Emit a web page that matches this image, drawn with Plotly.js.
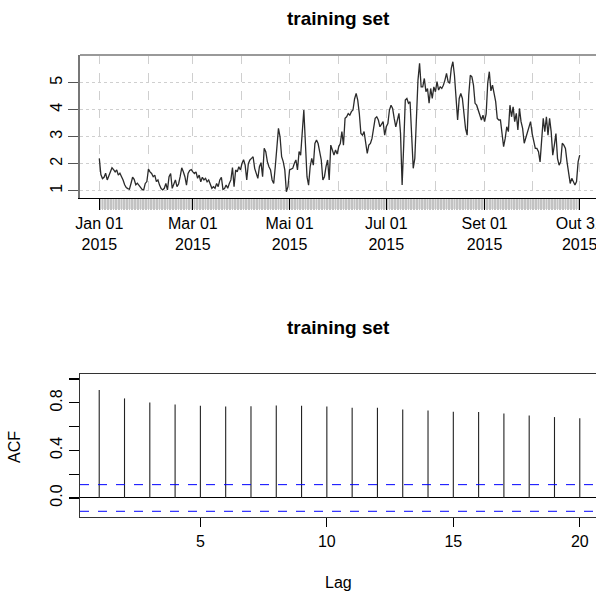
<!DOCTYPE html>
<html>
<head>
<meta charset="utf-8">
<script src="https://cdn.plot.ly/plotly-3.0.1.min.js"></script>
<style>
html,body{margin:0;padding:0;overflow:hidden;background:#fff;}
#chart{width:620px;height:597px;}
</style>
</head>
<body>
<div id="chart"></div>
<script>
// ---------- data ----------
const startDate = '2015-01-01';
const endDate = '2015-10-31';
const seriesValues = [
2.20,1.60,1.45,1.50,1.65,1.40,1.55,1.70,1.85,1.78,
1.70,1.77,1.58,1.65,1.55,1.40,1.22,1.12,1.08,1.06,
1.27,1.50,1.42,1.22,1.28,1.20,1.14,1.05,1.03,1.27,
1.34,1.80,1.70,1.64,1.52,1.58,1.34,1.40,1.21,1.08,
1.03,1.09,1.27,1.03,1.52,1.64,1.09,1.27,1.40,1.15,
1.25,1.52,1.85,1.70,1.52,1.21,1.64,1.75,1.78,1.70,
1.64,
1.70,1.46,1.58,1.33,1.50,1.40,1.46,1.33,1.40,1.21,
1.09,1.15,1.09,1.27,1.15,1.40,1.50,1.05,1.08,1.21,
1.09,1.27,1.40,1.86,1.15,1.77,1.70,1.89,1.77,2.01,
2.15,1.95,1.40,2.00,2.14,2.20,2.26,1.83,1.60,1.46,
1.89,2.04,1.52,2.57,2.45,2.08,1.89,1.77,1.40,1.27,
1.90,2.75,3.31,3.00,2.26,2.08,1.77,0.96,1.15,1.77,
1.80,1.83,
2.01,2.14,1.77,2.45,2.32,3.12,3.99,2.75,1.52,1.21,
1.89,2.20,1.95,2.75,2.88,2.75,2.40,2.14,1.40,1.52,
1.89,2.14,1.40,2.69,2.51,2.32,2.51,2.36,2.63,2.75,
3.19,2.69,3.68,3.74,3.86,3.80,3.93,3.99,4.40,4.61,
4.36,3.86,3.12,3.06,3.19,2.75,2.38,2.69,2.75,2.94,
3.37,3.68,3.74,3.62,3.37,3.49,3.56,3.06,3.37,3.49,
3.99,
4.17,4.05,3.68,3.37,3.62,3.87,3.12,1.21,2.69,4.36,
4.42,4.24,4.30,2.94,1.83,2.20,4.05,5.10,5.72,4.85,
4.85,5.16,4.67,4.79,4.24,4.79,4.42,4.85,4.67,5.04,
4.73,4.85,4.79,4.91,5.10,5.35,5.04,4.98,5.53,5.78,
5.28,4.48,3.62,4.42,4.60,4.42,3.93,3.30,3.06,4.54,
5.28,5.22,4.91,4.24,4.17,3.99,3.80,3.62,3.80,3.56,
3.85,5.00,
5.41,4.70,4.91,4.54,4.30,3.68,3.62,3.62,3.19,2.63,
2.94,3.37,3.19,4.17,3.74,4.11,3.56,3.87,3.25,4.05,
3.56,3.31,2.76,2.94,3.19,3.37,3.56,3.12,2.82,2.57,
2.57,2.45,2.07,3.06,3.68,3.19,3.74,3.06,3.68,3.19,
2.32,2.69,3.12,2.20,1.95,2.07,2.76,2.69,2.57,2.07,
1.58,1.27,1.46,1.35,1.21,1.34,2.07,2.32
];
const dateTickVals = ['2015-01-01','2015-02-01','2015-03-01','2015-04-01','2015-05-01','2015-06-01',
                      '2015-07-01','2015-08-01','2015-09-01','2015-10-01','2015-10-31'];
const dateTickText = ['Jan 01<br>2015','','Mar 01<br>2015','','Mai 01<br>2015','',
                      'Jul 01<br>2015','','Set 01<br>2015','','Out 31<br>2015'];
const lags = [1,2,3,4,5,6,7,8,9,10,11,12,13,14,15,16,17,18,19,20];
const acfValues = [0.907,0.837,0.803,0.786,0.775,0.770,0.772,0.778,0.775,0.770,
                   0.758,0.758,0.744,0.736,0.724,0.722,0.711,0.694,0.680,0.671];
const confLimit = 0.112;
const titleText = 'training set';

// ---------- build dates ----------
function addDays(s, n){
  const d = new Date(s + 'T00:00:00Z');
  d.setUTCDate(d.getUTCDate() + n);
  return d.toISOString().slice(0,10);
}
const dates = seriesValues.map((_, i) => addDays(startDate, i));
const FONT = 'Liberation Sans, Arial, sans-serif';

const traces = [
  {
    type: 'scatter', mode: 'lines', x: dates, y: seriesValues,
    xaxis: 'x', yaxis: 'y',
    line: {color: '#2b2b2b', width: 1.3},
    hoverinfo: 'x+y', showlegend: false
  },
  {
    type: 'scatter', mode: 'markers', x: lags, y: acfValues,
    xaxis: 'x2', yaxis: 'y2',
    marker: {size: 1, color: 'rgba(0,0,0,0)'},
    error_y: {type: 'data', symmetric: false, array: acfValues.map(() => 0),
              arrayminus: acfValues, width: 0, thickness: 1.1, color: '#222'},
    showlegend: false
  }
];

const layout = {
  width: 620, height: 597,
  margin: {l: 80, r: 21, t: 0, b: 0},
  paper_bgcolor: '#fff', plot_bgcolor: '#fff',
  font: {family: FONT, size: 16, color: '#000'},
  showlegend: false,
  xaxis: {
    type: 'date', anchor: 'y', domain: [0, 1],
    range: ['2014-12-19 20:00:00', '2015-11-12 04:00:00'],
    tickmode: 'array', tickvals: dateTickVals, ticktext: dateTickText,
    ticks: 'outside', ticklen: 11, tickwidth: 1.2, tickcolor: '#000',
    showline: true, linecolor: '#000', linewidth: 1.2,
    showgrid: true, gridcolor: '#cfcfcf', griddash: 'dash', gridwidth: 1,
    zeroline: false, tickfont: {size: 16, family: FONT},
    minor: {tickmode: 'array', tickvals: dates, ticks: 'outside', ticklen: 11,
            tickwidth: 1, tickcolor: '#c2c2c2', showgrid: false}
  },
  yaxis: {
    anchor: 'x', domain: [0.6683, 0.9079], range: [0.73, 6.03],
    tickmode: 'array', tickvals: [1,2,3,4,5],
    ticks: 'outside', ticklen: 10, tickwidth: 1.2, tickcolor: '#555',
    tickangle: -90,
    showline: true, linecolor: '#777', linewidth: 2,
    showgrid: true, gridcolor: '#cfcfcf', griddash: 'dot', gridwidth: 1,
    zeroline: false, tickfont: {size: 16, family: FONT}
  },
  xaxis2: {
    anchor: 'y2', domain: [0, 1], range: [0.24, 20.76],
    tickmode: 'array', tickvals: [5,10,15,20],
    ticks: 'outside', ticklen: 9, tickwidth: 1.2, tickcolor: '#000',
    showline: true, mirror: true, linecolor: '#333', linewidth: 1.3,
    showgrid: false, zeroline: false, tickfont: {size: 16, family: FONT}
  },
  yaxis2: {
    anchor: 'x2', domain: [0.134, 0.3735], range: [-0.16, 1.042],
    tickmode: 'array', tickvals: [0,0.2,0.4,0.6,0.8,1.0],
    ticktext: ['0.0','','0.4','','0.8',''],
    ticks: 'outside', ticklen: 10, tickwidth: 1.2, tickcolor: '#000',
    tickangle: -90,
    showline: true, mirror: true, linecolor: '#333', linewidth: 1.3,
    showgrid: false, zeroline: true, zerolinecolor: '#000', zerolinewidth: 1,
    tickfont: {size: 16, family: FONT}
  },
  shapes: [
    {type: 'rect', xref: 'x', yref: 'paper', x0: startDate, x1: endDate,
     y0: 0.6499, y1: 0.6683, fillcolor: '#dcdcdc', line: {width: 0}, layer: 'below'},
    {type: 'line', xref: 'x domain', yref: 'y domain', x0: 0, x1: 1, y0: 1, y1: 1,
     line: {color: '#999', width: 2}},
    {type: 'line', xref: 'x2 domain', yref: 'y2', x0: 0, x1: 1, y0: confLimit, y1: confLimit,
     line: {color: '#0000ff', width: 1, dash: 'dash'}},
    {type: 'line', xref: 'x2 domain', yref: 'y2', x0: 0, x1: 1, y0: -confLimit, y1: -confLimit,
     line: {color: '#0000ff', width: 1, dash: 'dash'}}
  ],
  annotations: [
    {text: '<b>' + titleText + '</b>', xref: 'paper', yref: 'paper', x: 0.499, y: 0.9698,
     xanchor: 'center', yanchor: 'middle', showarrow: false, font: {size: 19, family: FONT}},
    {text: '<b>' + titleText + '</b>', xref: 'paper', yref: 'paper', x: 0.499, y: 0.4506,
     xanchor: 'center', yanchor: 'middle', showarrow: false, font: {size: 19, family: FONT}},
    {text: 'ACF', xref: 'paper', yref: 'paper', x: -0.1252, y: 0.2513, textangle: -90,
     xanchor: 'center', yanchor: 'middle', showarrow: false, font: {size: 16, family: FONT}},
    {text: 'Lag', xref: 'paper', yref: 'paper', x: 0.499, y: 0.0235,
     xanchor: 'center', yanchor: 'middle', showarrow: false, font: {size: 16, family: FONT}}
  ]
};

Plotly.newPlot('chart', traces, layout, {displayModeBar: false, staticPlot: true});
</script>
</body>
</html>
